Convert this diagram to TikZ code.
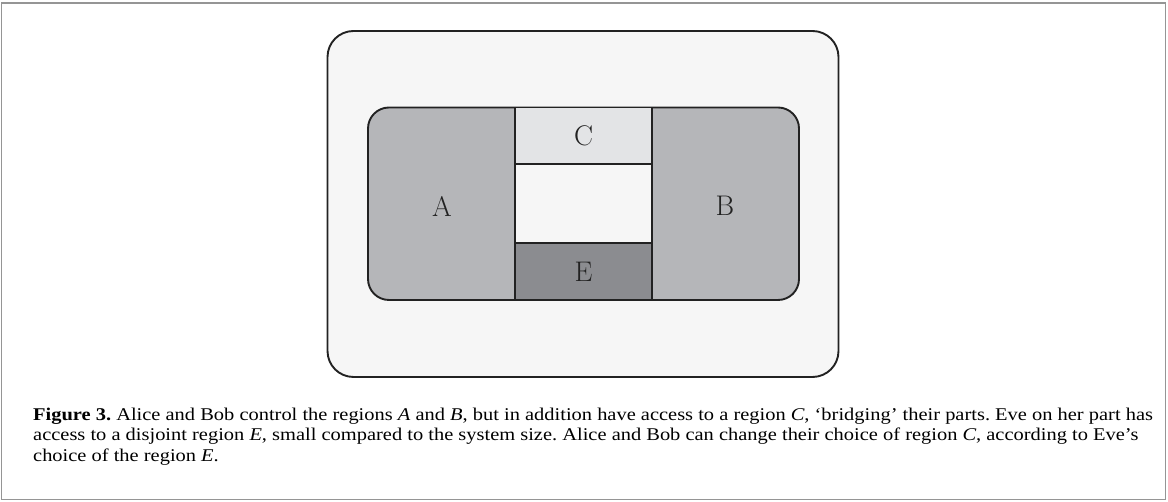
\documentclass[tikz,border=0pt]{standalone}
\usepackage{fontspec}
\newfontfamily\capfont[FakeStretch=1.14]{Liberation Serif}
\definecolor{framegray}{HTML}{959595}
\definecolor{outerfill}{HTML}{F6F6F6}
\definecolor{abfill}{HTML}{B5B6B9}
\definecolor{cfill}{HTML}{E3E4E6}
\definecolor{efill}{HTML}{8B8C90}
\definecolor{edge}{HTML}{222222}
\tikzset{
  region/.style={draw=edge, line width=1.9pt},
  lbl/.style={font=\fontsize{28.5}{30}\selectfont, text=edge, inner sep=0pt},
  capline/.style={anchor=base west, inner sep=0pt, font=\capfont\fontsize{18}{21}\selectfont\frenchspacing, text=black},
}
\begin{document}
\begin{tikzpicture}[x={(1bp,0)}, y={(0,-1bp)}]
\useasboundingbox (0,0) rectangle (1168,502);
\fill[white] (0,0) rectangle (1168,502);
\draw[framegray, line width=1.6pt] (1.5,3) rectangle (1165.5,499.5);
% outer system
\draw[region, fill=outerfill, rounded corners=26bp] (327.5,31) rectangle (838.5,377);
% A and B body
\draw[region, fill=abfill, rounded corners=21bp] (368,107.5) rectangle (799,300);
% middle column
\draw[region, fill=cfill] (515,107.5) rectangle (652,164);
\draw[region, fill=outerfill] (515,164) rectangle (652,243);
\draw[region, fill=efill] (515,243) rectangle (652,300);
% labels
\node[lbl] (A) at (442,206) {A};
\node[lbl] (B) at (725,206) {B};
\node[lbl] (C) at (583.5,136) {C};
\node[lbl] (E) at (583.5,272) {E};
% caption
\node[capline] (cap1) at (33,420) {\textbf{Figure 3.} Alice and Bob control the regions \textit{A} and \textit{B}, but in addition have access to a region \textit{C}, ‘bridging’ their parts. Eve on her part has};
\node[capline] (cap2) at (33,440.5) {access to a disjoint region \textit{E}, small compared to the system size. Alice and Bob can change their choice of region \textit{C}, according to Eve’s};
\node[capline] (cap3) at (33,461) {choice of the region \textit{E}.};
\end{tikzpicture}
\end{document}
